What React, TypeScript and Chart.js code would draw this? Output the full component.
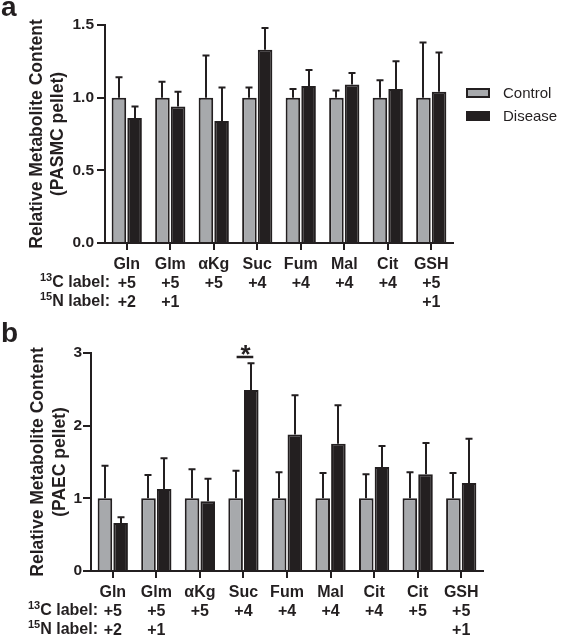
import React, { useEffect, useRef } from "react";
import { Chart, registerables } from "chart.js";

Chart.register(...registerables);

const FONT = '"Liberation Sans", Arial, Helvetica, sans-serif';
const INK = "#231f20";
const GREY = "#a7a9ac";

// ---- Panel a (PASMC pellet) ----
const categoriesA = ["Gln", "Glm", "αKg", "Suc", "Fum", "Mal", "Cit", "GSH"];
const c13A = ["+5", "+5", "+5", "+4", "+4", "+4", "+4", "+5"];
const n15A = ["+2", "+1", "", "", "", "", "", "+1"];
const controlA = [1, 1, 1, 1, 1, 1, 1, 1];
const controlErrA = [0.14, 0.11, 0.29, 0.07, 0.06, 0.05, 0.12, 0.38];
const diseaseA = [0.86, 0.94, 0.84, 1.33, 1.08, 1.09, 1.06, 1.04];
const diseaseErrA = [0.08, 0.1, 0.23, 0.15, 0.11, 0.08, 0.19, 0.27];
const yTicksA = [0, 0.5, 1.0, 1.5];

// ---- Panel b (PAEC pellet) ----
const categoriesB = ["Gln", "Glm", "αKg", "Suc", "Fum", "Mal", "Cit", "Cit", "GSH"];
const c13B = ["+5", "+5", "+5", "+4", "+4", "+4", "+4", "+5", "+5"];
const n15B = ["+2", "+1", "", "", "", "", "", "", "+1"];
const controlB = [1, 1, 1, 1, 1, 1, 1, 1, 1];
const controlErrB = [0.45, 0.32, 0.4, 0.38, 0.36, 0.35, 0.33, 0.36, 0.35];
const diseaseB = [0.66, 1.13, 0.96, 2.49, 1.88, 1.75, 1.43, 1.33, 1.21];
const diseaseErrB = [0.08, 0.42, 0.31, 0.37, 0.54, 0.53, 0.29, 0.43, 0.61];
const yTicksB = [0, 1, 2, 3];
const significantB = [3];

const seriesNames = ["Control", "Disease"];

type Spec = {
  letter: string;
  letterY: number;
  pellet: string;
  categories: string[];
  c13: string[];
  n15: string[];
  control: number[];
  controlErr: number[];
  disease: number[];
  diseaseErr: number[];
  yTicks: number[];
  decimals: number;
  width: number;
  height: number;
  area: { left: number; right: number; top: number; bottom: number };
  headerRight: number;
  titleX: [number, number];
  yTickPad: number;
  legend: boolean;
  sig: number[];
};

function makePlugin(spec: Spec) {
  return {
    id: "panelExtras",
    afterDatasetsDraw(chart: any) {
      const ctx = chart.ctx;
      const y = chart.scales.y;
      const errs = [spec.controlErr, spec.diseaseErr];
      ctx.save();
      ctx.strokeStyle = INK;
      ctx.lineWidth = 2;
      chart.data.datasets.forEach((ds: any, di: number) => {
        const meta = chart.getDatasetMeta(di);
        meta.data.forEach((bar: any, i: number) => {
          const v = ds.data[i];
          const top = y.getPixelForValue(v + errs[di][i]);
          const x = Math.round(bar.x);
          ctx.beginPath();
          ctx.moveTo(x, bar.y);
          ctx.lineTo(x, top);
          ctx.moveTo(x - 3.5, top);
          ctx.lineTo(x + 3.5, top);
          ctx.stroke();
        });
      });
      // significance markers
      spec.sig.forEach((i) => {
        const b0 = chart.getDatasetMeta(0).data[i];
        const b1 = chart.getDatasetMeta(1).data[i];
        const capTop = y.getPixelForValue(spec.disease[i] + spec.diseaseErr[i]);
        const ly = Math.round(capTop - 6);
        ctx.beginPath();
        ctx.lineWidth = 2.5;
        ctx.moveTo(b0.x + 1, ly);
        ctx.lineTo(b1.x + 2, ly);
        ctx.stroke();
        ctx.fillStyle = INK;
        ctx.font = `bold 26px ${FONT}`;
        ctx.textAlign = "center";
        ctx.textBaseline = "alphabetic";
        ctx.fillText("*", (b0.x + b1.x) / 2 + 2, ly + 6);
      });
      ctx.restore();
    },
    afterDraw(chart: any) {
      const ctx = chart.ctx;
      const area = chart.chartArea;
      ctx.save();
      ctx.fillStyle = INK;
      // panel letter
      ctx.font = `bold 28px ${FONT}`;
      ctx.textAlign = "left";
      ctx.textBaseline = "alphabetic";
      ctx.fillText(spec.letter, 1, spec.letterY);
      // y axis title (two lines, rotated)
      const cy = (area.top + area.bottom) / 2;
      ctx.font = `bold 17.5px ${FONT}`;
      ctx.textAlign = "center";
      ctx.textBaseline = "middle";
      const lines = ["Relative Metabolite Content", `(${spec.pellet} pellet)`];
      lines.forEach((t, k) => {
        ctx.save();
        ctx.translate(spec.titleX[k], cy);
        ctx.rotate(-Math.PI / 2);
        ctx.fillText(t, 0, 0);
        ctx.restore();
      });
      // row headers
      const rows = [
        { sup: "13", main: "C label:", dy: 40 },
        { sup: "15", main: "N label:", dy: 59 },
      ];
      rows.forEach((r) => {
        const ry = area.bottom + r.dy;
        ctx.font = `bold 16px ${FONT}`;
        ctx.textAlign = "right";
        ctx.textBaseline = "middle";
        ctx.fillText(r.main, spec.headerRight, ry);
        const w = ctx.measureText(r.main).width;
        ctx.font = `bold 11px ${FONT}`;
        ctx.fillText(r.sup, spec.headerRight - w, ry - 5);
      });
      // legend
      if (spec.legend) {
        const items = [
          { label: seriesNames[0], fill: GREY, y: 93 },
          { label: seriesNames[1], fill: INK, y: 116 },
        ];
        items.forEach((it) => {
          ctx.fillStyle = INK;
          ctx.fillRect(466, it.y - 5, 24, 10);
          ctx.fillStyle = it.fill;
          ctx.fillRect(468, it.y - 3, 20, 6);
          ctx.fillStyle = INK;
          ctx.font = `15px ${FONT}`;
          ctx.textAlign = "left";
          ctx.textBaseline = "middle";
          ctx.fillText(it.label, 503, it.y + 1);
        });
      }
      ctx.restore();
    },
  };
}

function Panel({ spec, top }: { spec: Spec; top: number }) {
  const ref = useRef<HTMLCanvasElement | null>(null);
  useEffect(() => {
    if (!ref.current) return;
    const labels = spec.categories.map((c, i) =>
      [c, spec.c13[i], spec.n15[i]].filter((s) => s !== "")
    );
    const chart = new Chart(ref.current, {
      type: "bar",
      data: {
        labels,
        datasets: [
          {
            label: seriesNames[0],
            data: spec.control,
            backgroundColor: GREY,
            borderColor: INK,
            borderWidth: 2,
            barPercentage: 0.93,
            categoryPercentage: 0.72,
          },
          {
            label: seriesNames[1],
            data: spec.disease,
            backgroundColor: INK,
            borderColor: INK,
            borderWidth: 2,
            barPercentage: 0.93,
            categoryPercentage: 0.72,
          },
        ],
      },
      options: {
        responsive: false,
        animation: false,
        devicePixelRatio: 1,
        layout: {
          padding: {
            left: 0,
            top: spec.area.top,
            right: spec.width - spec.area.right,
            bottom: 0,
          },
        },
        plugins: {
          legend: { display: false },
          tooltip: { enabled: false },
        },
        scales: {
          x: {
            offset: true,
            grid: {
              display: true,
              offset: false,
              drawOnChartArea: false,
              drawTicks: true,
              tickLength: 7,
              color: INK,
              lineWidth: 2,
            },
            border: { display: true, color: INK, width: 2 },
            ticks: {
              autoSkip: false,
              maxRotation: 0,
              minRotation: 0,
              padding: 5,
              color: INK,
              font: { family: FONT, size: 16, weight: "bold", lineHeight: 1.2 },
            },
            afterFit: (s: any) => {
              s.height = spec.height - spec.area.bottom;
            },
          },
          y: {
            min: 0,
            max: spec.yTicks[spec.yTicks.length - 1],
            afterBuildTicks: (s: any) => {
              s.ticks = spec.yTicks.map((v) => ({ value: v }));
            },
            grid: {
              display: true,
              drawOnChartArea: false,
              drawTicks: true,
              tickLength: 8,
              color: INK,
              lineWidth: 2,
            },
            border: { display: true, color: INK, width: 2 },
            ticks: {
              padding: spec.yTickPad,
              color: INK,
              font: { family: FONT, size: 15.5, weight: "bold" },
              callback: (v: any) => Number(v).toFixed(spec.decimals),
            },
            afterFit: (s: any) => {
              s.width = spec.area.left;
            },
          },
        },
      },
      plugins: [makePlugin(spec)],
    } as any);
    return () => chart.destroy();
  }, [spec]);
  return (
    <canvas
      ref={ref}
      width={spec.width}
      height={spec.height}
      style={{ position: "absolute", left: 0, top, width: spec.width, height: spec.height }}
    />
  );
}

const specA: Spec = {
  letter: "a",
  letterY: 16,
  pellet: "PASMC",
  categories: categoriesA,
  c13: c13A,
  n15: n15A,
  control: controlA,
  controlErr: controlErrA,
  disease: diseaseA,
  diseaseErr: diseaseErrA,
  yTicks: yTicksA,
  decimals: 1,
  width: 566,
  height: 310,
  area: { left: 105, right: 453, top: 25, bottom: 243 },
  headerRight: 110,
  titleX: [37, 58],
  yTickPad: 3,
  legend: true,
  sig: [],
};

const specB: Spec = {
  letter: "b",
  letterY: 32,
  pellet: "PAEC",
  categories: categoriesB,
  c13: c13B,
  n15: n15B,
  control: controlB,
  controlErr: controlErrB,
  disease: diseaseB,
  diseaseErr: diseaseErrB,
  yTicks: yTicksB,
  decimals: 0,
  width: 566,
  height: 325,
  area: { left: 91, right: 483, top: 43, bottom: 261 },
  headerRight: 98,
  titleX: [38, 60],
  yTickPad: 1,
  legend: false,
  sig: significantB,
};

export default function App() {
  return (
    <div
      style={{
        position: "absolute",
        left: 0,
        top: 0,
        width: 566,
        height: 635,
        background: "#ffffff",
        overflow: "hidden",
      }}
    >
      <Panel spec={specA} top={0} />
      <Panel spec={specB} top={310} />
    </div>
  );
}
